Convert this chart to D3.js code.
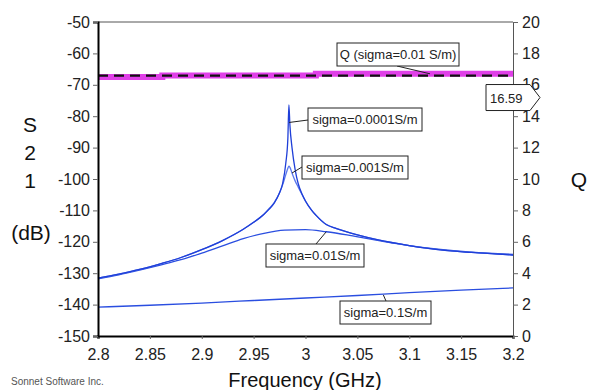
<!DOCTYPE html>
<html>
<head>
<meta charset="utf-8">
<script src="https://cdn.jsdelivr.net/npm/d3@7"></script>
<style>
body { margin: 0; background: #fff; }
svg { font-family: "Liberation Sans", Arial, sans-serif; }
</style>
</head>
<body>
<script>
// S21 curves, frequency in GHz, S21 in dB
var freqPeak = [2.80, 2.82, 2.84, 2.86, 2.88, 2.90, 2.92, 2.94, 2.95, 2.96, 2.965, 2.97, 2.975, 2.978, 2.981, 2.983, 2.984, 2.985, 2.987, 2.99, 2.993, 2.997, 3.00, 3.006, 3.01, 3.02, 3.03, 3.05, 3.07, 3.10, 3.13, 3.16, 3.20];
var s21_0001 = [-131.6, -130.3, -128.8, -127.0, -125.0, -122.5, -119.6, -116.0, -113.8, -111.2, -109.6, -107.6, -104.4, -101.4, -95.0, -87.0, -76.4, -83.0, -90.0, -97.0, -101.5, -105.0, -107.0, -110.0, -111.5, -114.5, -115.8, -117.8, -119.4, -121.2, -122.6, -123.4, -124.2];
var s21_001 = [-131.6, -130.3, -128.8, -127.0, -125.0, -122.5, -119.6, -116.0, -113.8, -111.2, -109.4, -107.4, -104.4, -101.8, -98.6, -96.6, -95.9, -96.3, -98.1, -100.6, -102.6, -105.2, -107.1, -110.0, -111.5, -114.5, -115.8, -117.8, -119.4, -121.2, -122.6, -123.4, -124.2];

var freq01 = [2.80, 2.82, 2.84, 2.86, 2.88, 2.90, 2.92, 2.94, 2.96, 2.98, 3.00, 3.02, 3.04, 3.06, 3.08, 3.10, 3.13, 3.16, 3.20];
var s21_01 = [-131.8, -130.5, -129.0, -127.4, -125.7, -123.6, -121.3, -119.0, -117.3, -116.3, -116.1, -116.8, -117.8, -119.0, -120.2, -121.2, -122.4, -123.3, -124.0];

var freq1 = [2.80, 2.85, 2.90, 2.95, 3.00, 3.05, 3.10, 3.15, 3.20];
var s21_1 = [-140.8, -140.2, -139.5, -138.7, -137.9, -137.1, -136.2, -135.4, -134.7];

// Q (sigma = 0.01 S/m), right axis
var qFreq = [2.80, 2.862, 2.862, 3.01, 3.01, 3.20];
var qVals = [16.5, 16.5, 16.6, 16.6, 16.7, 16.7];
var qMarker = 16.59;

var xTicks = [2.8, 2.85, 2.9, 2.95, 3.0, 3.05, 3.1, 3.15, 3.2];
var leftTicks = [-150, -140, -130, -120, -110, -100, -90, -80, -70, -60, -50];
var rightTicks = [0, 2, 4, 6, 8, 10, 12, 14, 16, 18, 20];

var width = 590, height = 390;
var plot = {left: 98, right: 513, top: 22, bottom: 336};

var svg = d3.select("body").append("svg")
	.attr("width", width)
	.attr("height", height);

var x = d3.scaleLinear().domain([2.8, 3.2]).range([plot.left, plot.right]);
var yL = d3.scaleLinear().domain([-150, -50]).range([plot.bottom, plot.top]);
var yR = d3.scaleLinear().domain([0, 20]).range([plot.bottom, plot.top]);

// top border
svg.append("line")
	.attr("x1", plot.left).attr("x2", plot.right)
	.attr("y1", plot.top).attr("y2", plot.top)
	.attr("stroke", "#555").attr("stroke-width", 1);

// curves
var lineL = function(fs, vs) {
	return d3.line()
		.x((d, i) => x(fs[i]))
		.y((d) => yL(d))
		.curve(d3.curveMonotoneX)(vs);
};

svg.append("path").attr("d", lineL(freq1, s21_1))
	.attr("fill", "none").attr("stroke", "#2a4ee0").attr("stroke-width", 1.3);
svg.append("path").attr("d", lineL(freq01, s21_01))
	.attr("fill", "none").attr("stroke", "#2a4ee0").attr("stroke-width", 1.3);
svg.append("path").attr("d", lineL(freqPeak, s21_001))
	.attr("fill", "none").attr("stroke", "#5a78ee").attr("stroke-width", 1.3);
svg.append("path").attr("d", lineL(freqPeak, s21_0001))
	.attr("fill", "none").attr("stroke", "#1f3fd8").attr("stroke-width", 1.3);

// Q band
var lineQ = d3.line()
	.x((d, i) => x(qFreq[i]))
	.y((d) => yR(d));
svg.append("path").attr("d", lineQ(qVals))
	.attr("fill", "none").attr("stroke", "#e040e8").attr("stroke-width", 6);

svg.append("line")
	.attr("x1", plot.left).attr("x2", plot.right)
	.attr("y1", yR(qMarker)).attr("y2", yR(qMarker))
	.attr("stroke", "#111").attr("stroke-width", 2.2)
	.attr("stroke-dasharray", "10,6");

// axes
var fmtX = (d) => String(+d.toFixed(2));
var fmtY = (d) => String(d);

var bottomAxis = d3.axisBottom(x).tickValues(xTicks).tickFormat(fmtX).tickSize(3).tickPadding(10);
var gB = svg.append("g")
	.attr("transform", "translate(0," + plot.bottom + ")")
	.call(bottomAxis);

var leftAxis = d3.axisLeft(yL).tickValues(leftTicks).tickFormat(fmtY).tickSize(5).tickPadding(3);
var gL = svg.append("g")
	.attr("transform", "translate(" + plot.left + ",0)")
	.call(leftAxis);

var rightAxis = d3.axisRight(yR).tickValues(rightTicks).tickFormat(fmtY).tickSize(5).tickPadding(4);
var gR = svg.append("g")
	.attr("transform", "translate(" + plot.right + ",0)")
	.call(rightAxis);

[gB, gL, gR].forEach((g) => {
	g.selectAll("text")
		.attr("font-size", "16px")
		.attr("font-family", "Liberation Sans, Arial, sans-serif")
		.attr("fill", "#222");
	g.selectAll(".tick line").attr("stroke", "#666");
});
gB.select(".domain").attr("stroke", "#000").attr("stroke-width", 2);
gL.select(".domain").attr("stroke", "#000").attr("stroke-width", 2);
gR.select(".domain").attr("stroke", "#555").attr("stroke-width", 1);

// axis titles
["S", "2", "1"].forEach((t, i) => {
	svg.append("text")
		.attr("x", 30).attr("y", 132 + i * 28)
		.attr("text-anchor", "middle")
		.attr("font-size", "21px")
		.attr("fill", "#111")
		.text(t);
});
svg.append("text")
	.attr("x", 31).attr("y", 240)
	.attr("text-anchor", "middle")
	.attr("font-size", "21px")
	.attr("fill", "#111")
	.text("(dB)");
svg.append("text")
	.attr("x", 579).attr("y", 187)
	.attr("text-anchor", "middle")
	.attr("font-size", "21px")
	.attr("fill", "#111")
	.text("Q");
svg.append("text")
	.attr("x", 305).attr("y", 387)
	.attr("text-anchor", "middle")
	.attr("font-size", "20px")
	.attr("fill", "#111")
	.text("Frequency (GHz)");
svg.append("text")
	.attr("x", 11).attr("y", 385)
	.attr("font-size", "10px")
	.attr("fill", "#555")
	.text("Sonnet Software Inc.");

// callout labels: anchor on a curve, box in pixels
var callouts = [
	{text: "sigma=0.0001S/m", f: 2.9842, v: -82, axis: "L", bx: 308, by: 108, bw: 114, lx: 308, ly: 120},
	{text: "sigma=0.001S/m", f: 2.987, v: -98.1, axis: "L", bx: 302, by: 156, bw: 106, lx: 302, ly: 167},
	{text: "sigma=0.01S/m", f: 3.02, v: -116.8, axis: "L", bx: 266, by: 244, bw: 98, lx: 316, ly: 244},
	{text: "sigma=0.1S/m", f: 3.075, v: -136.9, axis: "L", bx: 340, by: 301, bw: 91, lx: 386, ly: 301},
	{text: "Q (sigma=0.01 S/m)", f: 3.12, v: 16.7, axis: "R", bx: 337, by: 43, bw: 122, lx: 397, ly: 66}
];

callouts.forEach((c) => {
	var ay = c.axis === "L" ? yL(c.v) : yR(c.v);
	svg.append("line")
		.attr("x1", x(c.f)).attr("y1", ay)
		.attr("x2", c.lx).attr("y2", c.ly)
		.attr("stroke", "#222").attr("stroke-width", 1);
	svg.append("rect")
		.attr("x", c.bx).attr("y", c.by)
		.attr("width", c.bw).attr("height", 23)
		.attr("fill", "#fff").attr("stroke", "#222").attr("stroke-width", 1);
	svg.append("text")
		.attr("x", c.bx + c.bw / 2).attr("y", c.by + 16)
		.attr("text-anchor", "middle")
		.attr("font-size", "13px")
		.attr("fill", "#222")
		.text(c.text);
});

// value marker on right axis
var my = yR(qMarker) + 22;
svg.append("path")
	.attr("d", "M486," + (my - 13) + "H530L540," + my + "L530," + (my + 13) + "H486Z")
	.attr("fill", "#fff").attr("stroke", "#222").attr("stroke-width", 1);
svg.append("text")
	.attr("x", 490).attr("y", my + 5)
	.attr("font-size", "13px")
	.attr("fill", "#222")
	.text(qMarker.toFixed(2));
</script>
</body>
</html>
